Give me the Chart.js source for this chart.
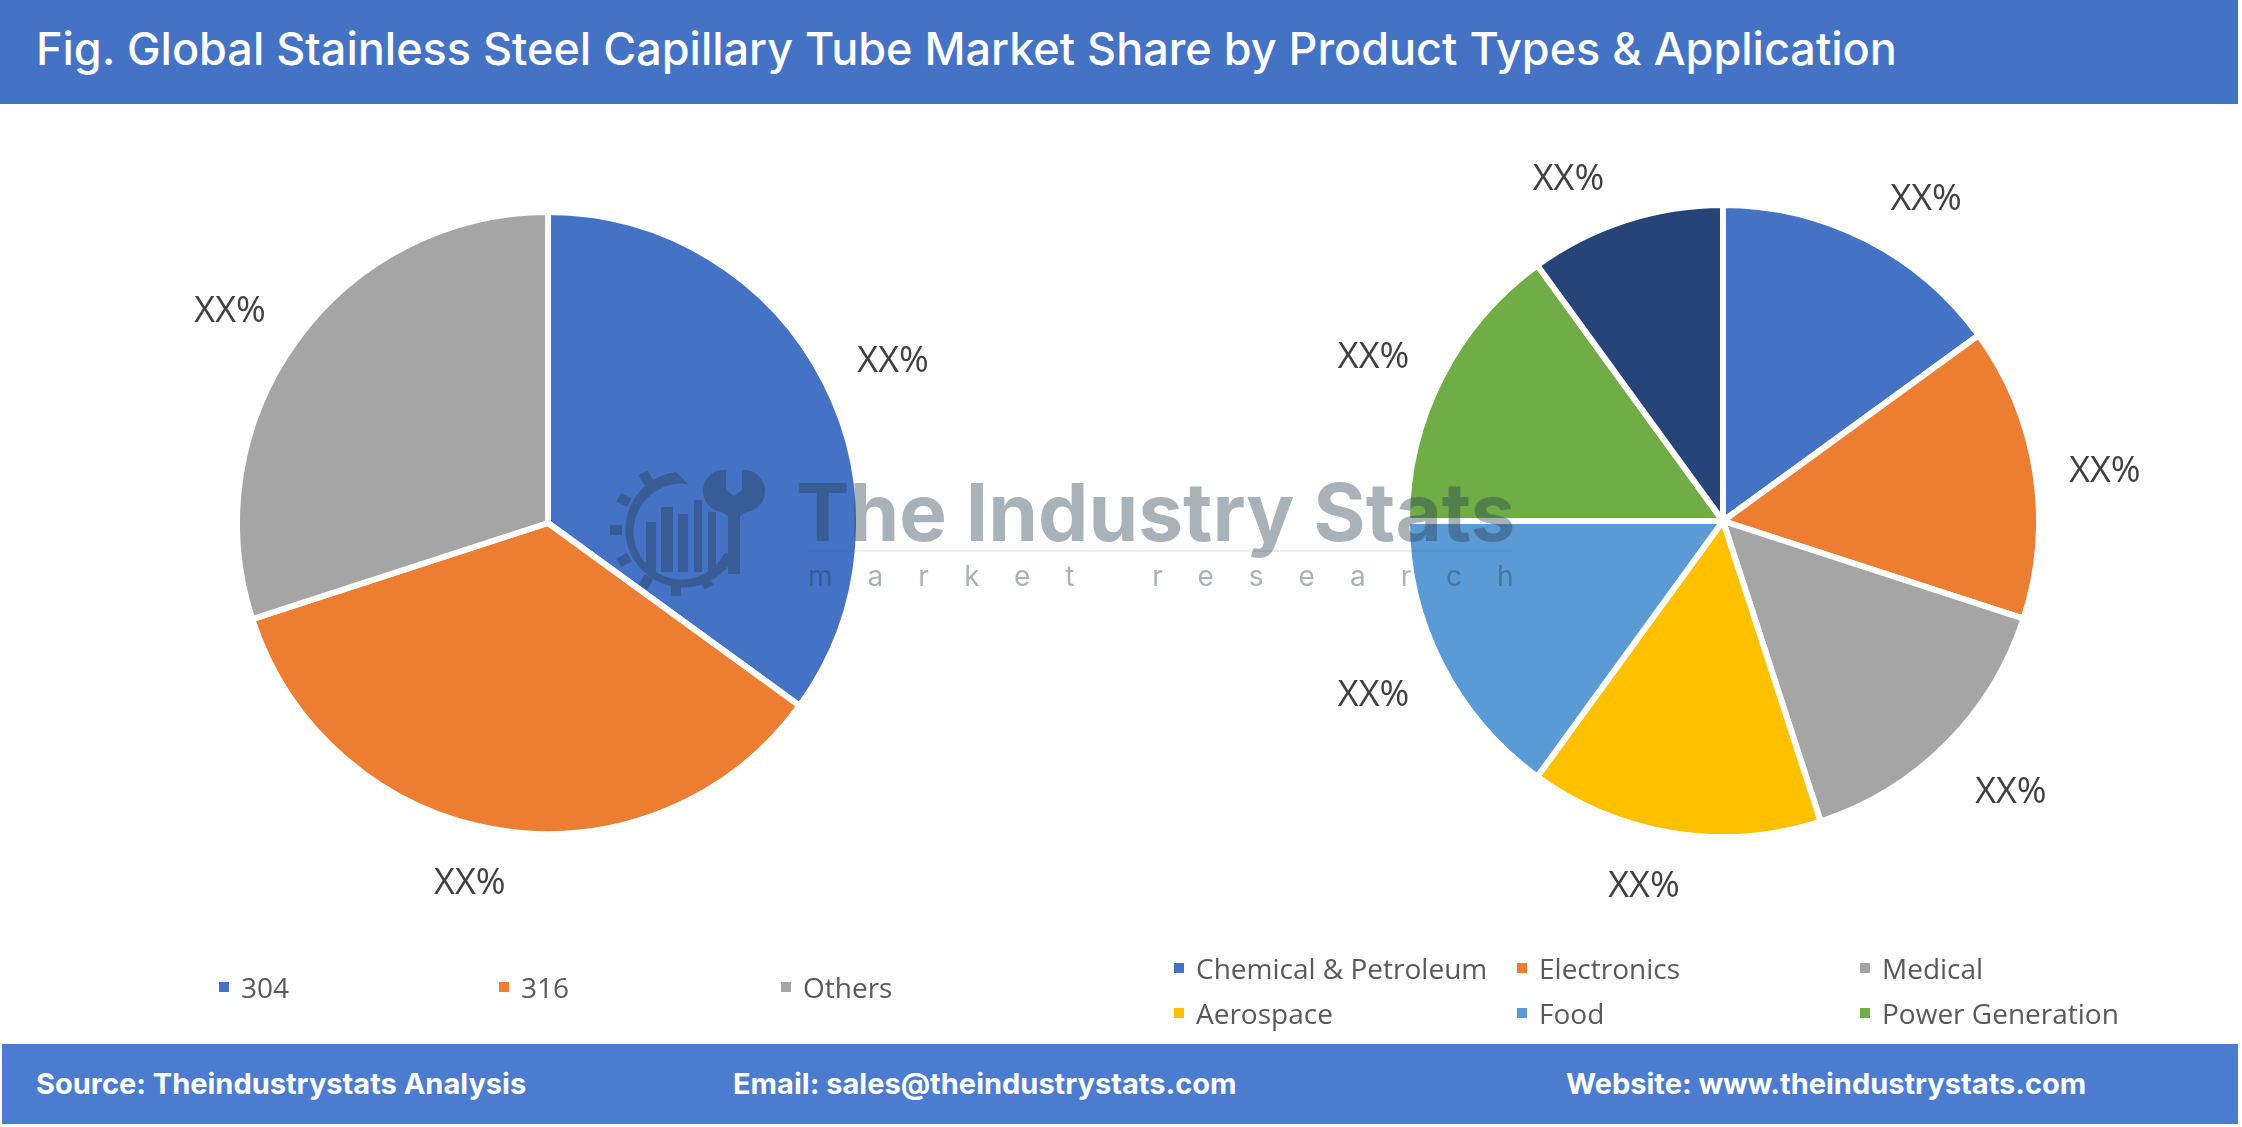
<!DOCTYPE html>
<html><head><meta charset="utf-8">
<script src="https://cdn.jsdelivr.net/npm/chart.js@4.4.0/dist/chart.umd.min.js"></script>
<style>
html,body{margin:0;padding:0;background:#fff;}
#root{position:relative;width:2242px;height:1127px;overflow:hidden;background:#fff;}
#header{position:absolute;left:0;top:0;width:2238px;height:104px;background:#4472C4;z-index:5;}
#title{position:absolute;left:36px;top:21px;line-height:56px;color:#fff;font-family:Inter,sans-serif;font-weight:500;font-size:45px;white-space:nowrap;}
#footer{position:absolute;left:2px;top:1044px;width:2236px;height:80px;background:#4C7CD0;z-index:5;}
.ft{position:absolute;top:18px;line-height:44px;color:#fff;font-family:Inter,sans-serif;font-weight:700;font-size:29px;white-space:nowrap;}
canvas{position:absolute;}
.lg{position:absolute;z-index:6;font-family:'Open Sans',sans-serif;font-size:28px;color:#595959;white-space:nowrap;height:40px;line-height:40px;}
.lg i{position:absolute;left:0;top:15px;width:10px;height:10px;}
.lg span{position:absolute;left:22px;top:0;}
#wm{position:absolute;left:0;top:0;width:2242px;height:1127px;z-index:4;pointer-events:none;}
#wmText{position:absolute;left:796px;top:462px;font-family:Inter,sans-serif;font-weight:700;font-size:80px;line-height:100px;color:#283e52;opacity:0.4;white-space:nowrap;}
#wmLine{position:absolute;left:808px;top:550px;width:704px;height:2px;background:#283e52;opacity:0.08;}
#wmSub{position:absolute;left:808px;top:556px;font-family:Inter,sans-serif;font-weight:400;font-size:28px;line-height:40px;color:#283e52;opacity:0.4;white-space:nowrap;letter-spacing:35px;}
#wmIcon{position:absolute;left:606px;top:462px;}
</style></head>
<body><div id="root">
<div id="header"><div id="title">Fig. Global Stainless Steel Capillary Tube Market Share by Product Types &amp; Application</div></div>
<canvas id="leftPie" width="900" height="900" style="left:98px;top:73px;"></canvas>
<canvas id="rightPie" width="900" height="900" style="left:1273px;top:71px;"></canvas>
<div id="wm">
  <svg id="wmIcon" width="180" height="140" viewBox="0 0 180 140">
    <g opacity="0.4" fill="#283e52" stroke="none">
      <path d="M70 10 A58 58 0 1 0 128 96 L118 92 A48 48 0 1 1 82 22 Z"/>
      <g transform="translate(70,68)">
        <rect x="-5" y="-66" width="10" height="12" transform="rotate(-30)"/>
        <rect x="-5" y="-66" width="10" height="12" transform="rotate(-60)"/>
        <rect x="-5" y="-66" width="10" height="12" transform="rotate(-90)"/>
        <rect x="-5" y="-66" width="10" height="12" transform="rotate(-120)"/>
        <rect x="-5" y="-66" width="10" height="12" transform="rotate(-150)"/>
        <rect x="-5" y="-66" width="10" height="12" transform="rotate(180)"/>
        <rect x="-5" y="-66" width="10" height="12" transform="rotate(150)"/>
        <rect x="-5" y="-66" width="10" height="12" transform="rotate(120)"/>
      </g>
      <rect x="40" y="60" width="10" height="50"/>
      <rect x="55" y="45" width="12" height="65"/>
      <rect x="72" y="52" width="10" height="58"/>
      <rect x="88" y="38" width="8" height="72"/>
      <rect x="102" y="50" width="8" height="60"/>
      <path d="M120 8 L120 28 L128 34 L136 28 L136 8 A20 20 0 0 1 140 50 L134 54 L134 112 L122 112 L122 54 L116 50 A20 20 0 0 1 120 8 Z"/>
    </g>
  </svg>
  <div id="wmText">The Industry Stats</div>
  <div id="wmLine"></div>
  <div id="wmSub">market research</div>
</div>
<div id="legends"></div>
<div id="footer">
  <div class="ft" style="left:34px;">Source: Theindustrystats Analysis</div>
  <div class="ft" style="left:731px;">Email: sales@theindustrystats.com</div>
  <div class="ft" style="left:1564px;">Website: www.theindustrystats.com</div>
</div>
</div>
<script>
// ---- data ----
const productTypes = ['304', '316', 'Others'];
const productShare = [35, 35, 30];
const productLabelText = ['XX%', 'XX%', 'XX%'];

const applications = ['Chemical & Petroleum', 'Electronics', 'Medical', 'Aerospace', 'Food', 'Power Generation', 'Others'];
const applicationShare = [15, 15, 15, 15, 15, 15, 10];
const applicationLabelText = ['XX%', 'XX%', 'XX%', 'XX%', 'XX%', 'XX%', 'XX%'];

// ---- styles ----
const productColors = ['#4472C4', '#ED7D31', '#A5A5A5'];
const applicationColors = ['#4472C4', '#ED7D31', '#A5A5A5', '#FFC000', '#5B9BD5', '#70AD47', '#264478'];

// "outside end" labels: anchor just beyond the arc at the slice's mid angle,
// then the label box is pushed away from the pie (like spreadsheet label boxes)
const clamp = (v, lo, hi) => Math.max(lo, Math.min(hi, v));
const outsideLabels = {
  id: 'outsideLabels',
  afterDatasetsDraw(chart, args, opts) {
    const ctx = chart.ctx;
    const meta = chart.getDatasetMeta(0);
    ctx.save();
    ctx.font = opts.font;
    ctx.fillStyle = opts.color;
    ctx.textAlign = 'center';
    ctx.textBaseline = 'middle';
    meta.data.forEach((arc, i) => {
      const p = arc.getProps(['startAngle', 'endAngle', 'outerRadius', 'x', 'y'], true);
      const mid = (p.startAngle + p.endAngle) / 2;
      const dx = Math.cos(mid), dy = Math.sin(mid);
      const R = p.outerRadius + opts.gap;
      const offX = opts.boxHalfW * clamp(dx / 0.3, -1, 1);
      const offY = opts.boxHalfH * Math.sign(dy) * clamp((Math.abs(dy) - 0.1) / 0.6, 0, 1);
      ctx.fillText(opts.texts[i], p.x + dx * R + offX, p.y + dy * R + offY + opts.yShift);
    });
    ctx.restore();
  }
};

function makePie(id, labels, values, colors, texts, radius, bw) {
  return new Chart(document.getElementById(id), {
    type: 'pie',
    data: { labels, datasets: [{ data: values, backgroundColor: colors, borderColor: '#ffffff', borderWidth: bw }] },
    options: {
      responsive: false,
      animation: false,
      events: [],
      radius: radius,
      layout: { padding: 0 },
      plugins: {
        legend: { display: false },
        tooltip: { enabled: false },
        outsideLabels: { font: '36px "Open Sans", sans-serif', color: '#404040', gap: 19, boxHalfW: 51, boxHalfH: 29, yShift: 6, texts }
      }
    },
    plugins: [outsideLabels]
  });
}

makePie('leftPie', productTypes, productShare, productColors, productLabelText, 311, 6);
makePie('rightPie', applications, applicationShare, applicationColors, applicationLabelText, 316, 6);

// ---- legends (HTML) ----
const legendsEl = document.getElementById('legends');
function addLegendItem(x, yCenter, color, text) {
  const d = document.createElement('div');
  d.className = 'lg';
  d.style.left = x + 'px';
  d.style.top = (yCenter - 20) + 'px';
  d.innerHTML = '<i style="background:' + color + '"></i><span></span>';
  d.querySelector('span').textContent = text;
  legendsEl.appendChild(d);
}
const leftLegendX = [219, 499, 781];
productTypes.forEach((t, i) => addLegendItem(leftLegendX[i], 987, productColors[i], t));
const rightLegendX = [1174, 1517, 1860];
const rightLegendY = [968, 1013];
// the reference legend lists the first six applications only
applications.slice(0, 6).forEach((t, i) =>
  addLegendItem(rightLegendX[i % 3], rightLegendY[Math.floor(i / 3)], applicationColors[i], t));
</script>
</body></html>
